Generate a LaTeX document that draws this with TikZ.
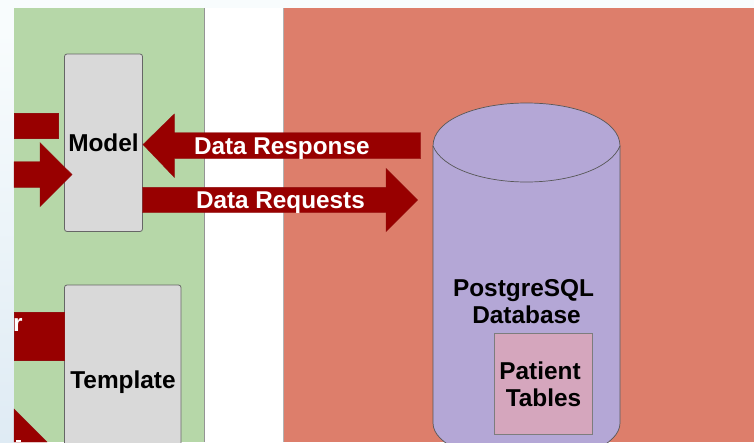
\documentclass[tikz,border=0pt]{standalone}
\usepackage{fontspec}
\setmainfont{Liberation Sans}
\definecolor{pagetint}{HTML}{F8FCFD}
\definecolor{pagetintlow}{HTML}{DFEBF4}
\definecolor{zonegreen}{HTML}{B6D7A8}
\definecolor{zonered}{HTML}{DD7E6B}
\definecolor{boxgray}{HTML}{D9D9D9}
\definecolor{dbpurple}{HTML}{B4A7D6}
\definecolor{tablepink}{HTML}{D5A6BD}
\definecolor{arrowred}{HTML}{980000}
\definecolor{edgegray}{HTML}{666666}
\tikzset{
  zone/.style={draw=edgegray!70,line width=0.7pt},
  box/.style={draw=edgegray,line width=0.8pt,fill=boxgray,rounded corners=2.5pt,inner sep=0pt,outer sep=0pt},
  blockarrow/.style={fill=arrowred,draw=arrowred!85!edgegray,line width=0.4pt,line join=miter},
  dbshape/.style={draw=edgegray!85!black,line width=0.7pt,fill=dbpurple},
  tablebox/.style={draw=edgegray!85,line width=0.8pt,fill=tablepink,inner sep=0pt,outer sep=0pt},
  darklabel/.style={text=black,font=\fontsize{24.4}{27}\selectfont\bfseries,inner sep=0pt,outer sep=0pt,align=center},
  lightlabel/.style={text=white,font=\fontsize{24.3}{27}\selectfont\bfseries,inner sep=0pt,outer sep=0pt},
}
\begin{document}
\begin{tikzpicture}[x=1pt,y=-1pt]
\useasboundingbox (0,0) rectangle (754,442);
\clip (0,0) rectangle (754,442);
% page background
\fill[pagetint] (0,0) rectangle (754,442);
\shade[top color=pagetint,bottom color=pagetintlow] (0,30) rectangle (14,442);
% zones
\fill[white] (205,8) rectangle (283,442);
\fill[zonegreen] (14,8) rectangle (205,442);
\draw[zone] (204.6,8) -- (204.6,442);
\fill[zonered] (283,8) rectangle (754,442);
\draw[zone,edgegray!50] (283,8) -- (283,442);
% boxes
\node[box,minimum width=78pt,minimum height=177.5pt] (model) at (103.5,142.75) {};
\node[box,minimum width=116.5pt,minimum height=215pt] (template) at (122.75,392.5) {};
% database
\path[dbshape] (433,146) -- (433,423)
  arc[start angle=180,end angle=360,x radius=93.5,y radius=-39.5]
  -- (620,146)
  .. controls (620,120) and (577,103) .. (526.5,103)
  .. controls (476,103) and (433,120) .. (433,146) -- cycle;
\draw[dbshape,fill=none] (433,146) .. controls (442,168) and (482,182) .. (526.5,182)
  .. controls (571,182) and (611,168) .. (620,146);
\node[tablebox,minimum width=98pt,minimum height=101pt] (tables) at (543,383.5) {};
% block arrows
\coordinate (responseTip) at (143,144.5);
\coordinate (requestTip) at (417.7,200);
\coordinate (modelTip) at (72,174.5);
\draw[blockarrow] (responseTip) -- (174.3,114) -- (174.3,132.7) -- (420.7,132.7) -- (420.7,158.7) -- (174.3,158.7) -- (174.3,177.3) -- cycle;
\draw[blockarrow] (requestTip) -- (386,231.7) -- (386,212.7) -- (142.5,212.7) -- (142.5,187.3) -- (386,187.3) -- (386,168.3) -- cycle;
\draw[blockarrow] (modelTip) -- (40,206.7) -- (40,187.3) -- (14,187.3) -- (14,161.7) -- (40,161.7) -- (40,142.7) -- cycle;
\draw[blockarrow] (14,112.7) rectangle (57.7,138);
\draw[blockarrow] (14,312.3) rectangle (template.west |- 14,360);
\draw[blockarrow] (14,409) -- (47,442) -- (14,442) -- cycle;
\fill[white] (16,440.3) rectangle (21,442);
% labels
\node[darklabel,anchor=base] (modellabel) at (103.5,151.3) {Model};
\node[darklabel,anchor=base] (templatelabel) at (123,388.6) {Template};
\node[lightlabel,anchor=base west] (responselabel) at (194,154) {Data Response};
\node[lightlabel,anchor=base west] (requestlabel) at (196,208) {Data Requests};
\begin{scope}
\clip (14,300) rectangle (64,360);
\node[lightlabel,anchor=base west] (cutlabel) at (13,331) {r};
\end{scope}
\node[darklabel,anchor=base] (dblabel) at (523.5,323.4) {PostgreSQL\\\hspace*{6pt}Database};
\node[darklabel,anchor=base] (tablelabel) at (540,406.4) {Patient\\\hspace*{7pt}Tables};
\end{tikzpicture}
\end{document}
